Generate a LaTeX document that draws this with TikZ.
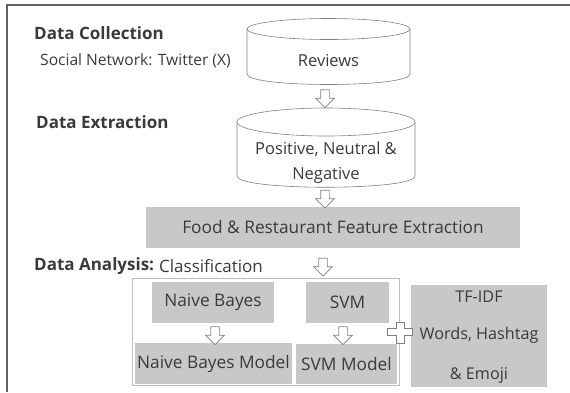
\documentclass[tikz,border=0pt]{standalone}
\usepackage{fontspec}
\setmainfont{Open Sans}
\usetikzlibrary{shapes.arrows,calc}
\definecolor{txt}{HTML}{3A3A3A}
\definecolor{boxgray}{HTML}{C8C8C8}
\definecolor{linegray}{HTML}{808080}
\definecolor{framegray}{HTML}{BDBDBD}
\tikzset{
  lbl/.style={anchor=west, inner sep=0pt, text=txt, font=\fontsize{15.6}{18}\selectfont},
  hdr/.style={anchor=west, inner sep=0pt, text=txt, font=\fontsize{17}{20}\selectfont\bfseries},
  graybox/.style={rectangle, fill=boxgray, inner sep=0pt, text=txt, font=\fontsize{17.3}{20}\selectfont},
  tftext/.style={inner sep=0pt, text=txt, font=\fontsize{16.2}{19}\selectfont},
  downarrow/.style={single arrow, draw=linegray, fill=white, line width=0.7pt, shape border rotate=270,
    inner sep=4pt, minimum height=18pt, single arrow head extend=5pt},
  cyl/.style={draw=linegray, line width=0.6pt},
  cyltext/.style={inner sep=0pt, text=txt, font=\fontsize{16.5}{19}\selectfont, align=center}
}
\begin{document}
\begin{tikzpicture}[x=1pt,y=-1pt]
\useasboundingbox (0,0) rectangle (570,392);
% outer frame (left and top edges visible)
\draw[line width=1.2pt, color=txt!80] (7,392) -- (7,5) -- (570,5);

% headers
\node[hdr] (hcol) at (34,33) {Data Collection};
\node[lbl] (hsoc) at (40,61) {Social Network: Twitter (X)};
\node[hdr] (hext) at (36,122) {Data Extraction};
\node[hdr] (hana) at (34,266) {Data Analysis:};
\node[lbl, anchor=west, font=\fontsize{17}{20}\selectfont] (hcls) at (159,266) {Classification};

% cylinder 1: Reviews
\draw[cyl, fill=white] (247,29) -- (247,74) .. controls (247,88) and (410,88) .. (410,74) -- (410,29);
\draw[cyl, fill=white] (328.5,29) ellipse [x radius=81.5, y radius=10.5];
\node[inner sep=0pt, minimum width=163pt, minimum height=66pt] (rev) at (328.5,51) {};
\node[cyltext] (revt) at (328.5,61) {Reviews};

% cylinder 2: Positive, Neutral & Negative
\draw[cyl, fill=white] (237,122) -- (237,176) .. controls (237,191) and (415,191) .. (415,176) -- (415,122);
\draw[cyl, fill=white] (326,122) ellipse [x radius=89, y radius=14];
\node[inner sep=0pt, minimum width=178pt, minimum height=79pt] (pos) at (326,147.5) {};
\node[cyltext] (post1) at (326,149) {Positive, Neutral \&};
\node[cyltext] (post2) at (326,175) {Negative};

% feature extraction
\node[graybox, minimum width=374pt, minimum height=41pt] (feat) at (333,227.5) {Food \& Restaurant Feature Extraction};

% classification frame
\node[draw=framegray, line width=0.8pt, fill=white, minimum width=267pt, minimum height=107pt, inner sep=0pt] (clsbox) at (265.5,331.5) {};
\node[graybox, minimum width=122pt, minimum height=41pt] (nb) at (213,302.5) {Naive Bayes};
\node[graybox, minimum width=83pt, minimum height=41pt] (svm) at (347.5,302.5) {SVM};
\node[graybox, minimum width=157pt, minimum height=41pt] (nbm) at (213.5,363.5) {Naive Bayes Model};
\node[graybox, minimum width=101pt, minimum height=40pt] (svmm) at (346.5,364) {SVM Model};

% TF-IDF box
\node[graybox, minimum width=136pt, minimum height=102pt] (tf) at (479,336) {};
\node[tftext] (tf1) at (479,297) {TF-IDF};
\node[tftext] (tf2) at (479,335) {Words, Hashtag};
\node[tftext] (tf3) at (479,375) {\& Emoji};

% block arrows
\node[downarrow] (a1) at (325,96.5) {};
\node[downarrow] (a2) at (325,197) {};
\node[downarrow] (a3) at (323,265) {};
\node[downarrow] (a4) at (215,333.5) {};
\node[downarrow] (a5) at (343,333.5) {};

% plus sign
\draw[draw=linegray, fill=white, line width=0.7pt]
  (396,322) -- (404,322) -- (404,328.5) -- (412,328.5) -- (412,335.5) -- (404,335.5) -- (404,343)
  -- (396,343) -- (396,335.5) -- (387.5,335.5) -- (387.5,328.5) -- (396,328.5) -- cycle;
\end{tikzpicture}
\end{document}
